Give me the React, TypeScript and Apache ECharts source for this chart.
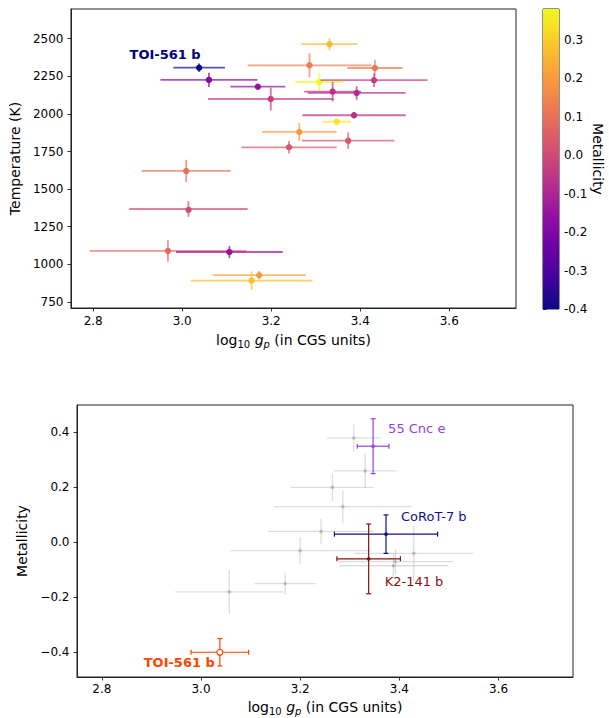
import React, { useEffect, useRef } from 'react';
import * as echarts from 'echarts';

// ---------- Top panel: temperature vs log g, coloured by metallicity ----------
const loggTop = [3.038, 3.060, 3.170, 3.199, 3.286, 3.308, 3.331, 3.433, 3.431, 3.338, 3.392, 3.386, 3.347, 3.263, 3.373, 3.240, 3.009, 3.014, 2.968, 3.106, 3.173, 3.156];
const loggErrTop = [0.058, 0.109, 0.062, 0.141, 0.139, 0.054, 0.063, 0.062, 0.120, 0.064, 0.110, 0.116, 0.032, 0.084, 0.104, 0.107, 0.100, 0.133, 0.176, 0.120, 0.105, 0.137];
const tempTop = [2307, 2226, 2181, 2099, 2323, 2212, 2463, 2305, 2224, 2148, 2139, 1991, 1948, 1880, 1822, 1778, 1621, 1368, 1089, 1082, 928, 892];
const tempErrTop = [28, 47, 18, 76, 80, 60, 40, 55, 45, 65, 45, 20, 20, 60, 55, 42, 74, 52, 72, 41, 28, 61];
const metalTop = [-0.40, -0.18, -0.15, -0.03, 0.13, 0.38, 0.26, 0.12, -0.04, -0.06, -0.085, -0.07, 0.35, 0.20, 0.03, 0.04, 0.10, 0.00, 0.08, -0.15, 0.20, 0.27];
const topLabelName = 'TOI-561 b';
const topLabelIndex = 0;

// ---------- Bottom panel: metallicity vs log g ----------
const bgLogg = [3.308, 3.331, 3.265, 3.286, 3.242, 3.200, 3.429, 3.388, 3.392, 3.170, 3.057];
const bgLoggErr = [0.054, 0.063, 0.084, 0.139, 0.107, 0.141, 0.120, 0.110, 0.116, 0.062, 0.109];
const bgMetal = [0.38, 0.26, 0.20, 0.13, 0.04, -0.03, -0.04, -0.085, -0.07, -0.15, -0.18];
const bgMetalErr = [0.05, 0.064, 0.049, 0.06, 0.047, 0.05, 0.10, 0.045, 0.045, 0.04, 0.079];

const hlNames = ['55 Cnc e', 'CoRoT-7 b', 'K2-141 b', 'TOI-561 b'];
const hlLogg = [3.347, 3.373, 3.338, 3.038];
const hlLoggErr = [0.032, 0.104, 0.064, 0.058];
const hlMetal = [0.35, 0.03, -0.06, -0.40];
const hlMetalErr = [0.10, 0.07, 0.127, 0.05];

// ---------- Tick labels ----------
const loggTicks = [2.8, 3.0, 3.2, 3.4, 3.6];
const tempTicks = [750, 1000, 1250, 1500, 1750, 2000, 2250, 2500];
const metalTicks = [-0.4, -0.2, 0.0, 0.2, 0.4];
const cbarTicks = [-0.4, -0.3, -0.2, -0.1, 0.0, 0.1, 0.2, 0.3];

// ---------- Styles ----------
const CB_MIN = -0.4;
const CB_MAX = 0.38;
const FONT = 'DejaVu Sans';
const hlStyle = [
  { color: '#9440e2', dx: 15, dy: -18, align: 'left', bold: false, open: false },
  { color: '#11118c', dx: 15, dy: -18, align: 'left', bold: false, open: false },
  { color: '#8b1010', dx: 16, dy: 23, align: 'left', bold: false, open: false },
  { color: '#ff4500', dx: -5, dy: 10, align: 'right', bold: true, open: true },
];

const PLASMA = ['#0d0887', '#41049d', '#6a00a8', '#8f0da4', '#b12a90', '#cc4778', '#e16462', '#f2844b', '#fca636', '#fcce25', '#f0f921'];

function hexToRgb(h: string) {
  const n = parseInt(h.slice(1), 16);
  return [(n >> 16) & 255, (n >> 8) & 255, n & 255];
}
function plasma(t: number) {
  const tt = Math.max(0, Math.min(1, t)) * (PLASMA.length - 1);
  const i = Math.min(PLASMA.length - 2, Math.floor(tt));
  const f = tt - i;
  const a = hexToRgb(PLASMA[i]);
  const b = hexToRgb(PLASMA[i + 1]);
  const c = a.map((v, k) => Math.round(v + (b[k] - v) * f));
  return `rgb(${c[0]},${c[1]},${c[2]})`;
}
const metalColor = (m: number) => plasma((m - CB_MIN) / (CB_MAX - CB_MIN));

const xName = '{n|log}{s|10}{n| }{i|g}{si|p}{n| (in CGS units)}';
const xNameStyle = {
  color: '#000',
  fontFamily: FONT,
  fontSize: 14,
  rich: {
    n: { fontFamily: FONT, fontSize: 14, color: '#000', lineHeight: 18 },
    i: { fontFamily: FONT, fontSize: 14, color: '#000', fontStyle: 'italic', lineHeight: 18 },
    s: { fontFamily: FONT, fontSize: 10, color: '#000', verticalAlign: 'bottom', lineHeight: 18 },
    si: { fontFamily: FONT, fontSize: 10, color: '#000', verticalAlign: 'bottom', lineHeight: 18, fontStyle: 'italic' },
  },
};

const tickStyle = { show: true, inside: false, length: 3.5, lineStyle: { color: '#000', width: 0.8 } };
const labelBase = { color: '#000', fontFamily: FONT, fontSize: 12 };
const fmt1 = (v: number) => (Math.abs(v) < 1e-9 ? '0.0' : v.toFixed(1));
const fmtMinus = (v: number) => (Math.abs(v) < 1e-9 ? '0.0' : (v < 0 ? '\u2212' : '') + Math.abs(v).toFixed(1));
const axisLineStyle = { show: true, onZero: false, lineStyle: { color: '#222', width: 1 } };

export default function App() {
  const ref = useRef<HTMLDivElement>(null);
  useEffect(() => {
    const el = ref.current;
    if (!el) return;
    const chart = echarts.init(el, null, { renderer: 'svg' });

    const topData = loggTop.map((x, i) => [x, loggErrTop[i], tempTop[i], tempErrTop[i], metalTop[i]]);
    const bgData = bgLogg.map((x, i) => [x, bgLoggErr[i], bgMetal[i], bgMetalErr[i]]);
    const hlData = hlLogg.map((x, i) => [x, hlLoggErr[i], hlMetal[i], hlMetalErr[i]]);

    const gradStops = [] as { offset: number; color: string }[];
    for (let k = 0; k <= 20; k++) {
      gradStops.push({ offset: k / 20, color: plasma(1 - k / 20) });
    }

    const option: any = {
      animation: false,
      backgroundColor: '#fff',
      grid: [
        { left: 64, top: 9, width: 452, height: 299, show: true, borderColor: '#222', borderWidth: 1, backgroundColor: 'transparent' },
        { left: 543, top: 9, width: 16, height: 300, show: true, borderColor: '#222', borderWidth: 1, backgroundColor: 'transparent' },
        { left: 77, top: 405, width: 496, height: 272, show: true, borderColor: '#222', borderWidth: 1, backgroundColor: 'transparent' },
      ],
      xAxis: [
        {
          gridIndex: 0, type: 'value', min: 2.75, max: 3.75,
          name: xName, nameLocation: 'middle', nameGap: 23, nameTextStyle: xNameStyle,
          axisLine: axisLineStyle,
          axisTick: { ...tickStyle, customValues: loggTicks },
          axisLabel: { ...labelBase, margin: 7, customValues: loggTicks, formatter: fmt1 },
          splitLine: { show: false },
        },
        { gridIndex: 1, type: 'value', min: 0, max: 1, show: false },
        {
          gridIndex: 2, type: 'value', min: 2.75, max: 3.75,
          name: xName, nameLocation: 'middle', nameGap: 21, nameTextStyle: xNameStyle,
          axisLine: axisLineStyle,
          axisTick: { ...tickStyle, customValues: loggTicks },
          axisLabel: { ...labelBase, margin: 6, customValues: loggTicks, formatter: fmt1 },
          splitLine: { show: false },
        },
      ],
      yAxis: [
        {
          gridIndex: 0, type: 'value', min: 710, max: 2697,
          name: 'Temperature (K)', nameLocation: 'middle', nameGap: 44, nameRotate: 90,
          nameTextStyle: { color: '#000', fontFamily: FONT, fontSize: 14 },
          axisLine: axisLineStyle,
          axisTick: { ...tickStyle, customValues: tempTicks },
          axisLabel: { ...labelBase, margin: 7.5, customValues: tempTicks, formatter: (v: number) => String(Math.round(v)) },
          splitLine: { show: false },
        },
        {
          gridIndex: 1, type: 'value', position: 'right', min: CB_MIN, max: CB_MAX,
          name: 'Metallicity', nameLocation: 'middle', nameGap: 31, nameRotate: -90,
          nameTextStyle: { color: '#000', fontFamily: FONT, fontSize: 14 },
          axisLine: { show: false },
          axisTick: { ...tickStyle, customValues: cbarTicks },
          axisLabel: { ...labelBase, margin: 5, customValues: cbarTicks, formatter: fmt1 },
          splitLine: { show: false },
        },
        {
          gridIndex: 2, type: 'value', min: -0.49, max: 0.5,
          name: 'Metallicity', nameLocation: 'middle', nameGap: 42, nameRotate: 90,
          nameTextStyle: { color: '#000', fontFamily: FONT, fontSize: 14 },
          axisLine: axisLineStyle,
          axisTick: { ...tickStyle, customValues: metalTicks },
          axisLabel: { ...labelBase, margin: 7.5, customValues: metalTicks, formatter: fmtMinus },
          splitLine: { show: false },
        },
      ],
      series: [
        {
          type: 'custom', xAxisIndex: 0, yAxisIndex: 0, data: topData, encode: { x: 0, y: 2 },
          renderItem: (params: any, api: any) => {
            const x = api.value(0), xe = api.value(1), y = api.value(2), ye = api.value(3), m = api.value(4);
            const col = metalColor(m);
            const p = api.coord([x, y]);
            const l = api.coord([x - xe, y]);
            const r = api.coord([x + xe, y]);
            const t = api.coord([x, y + ye]);
            const b = api.coord([x, y - ye]);
            const children: any[] = [
              { type: 'line', shape: { x1: l[0], y1: l[1], x2: r[0], y2: r[1] }, style: { stroke: col, lineWidth: 1.8, opacity: 0.7 } },
              { type: 'line', shape: { x1: t[0], y1: t[1], x2: b[0], y2: b[1] }, style: { stroke: col, lineWidth: 1.8, opacity: 0.7 } },
              { type: 'circle', shape: { cx: p[0], cy: p[1], r: 3.2 }, style: { fill: col } },
            ];
            if (params.dataIndex === topLabelIndex) {
              children.push({
                type: 'text', x: p[0] - 34, y: p[1] - 13,
                style: { text: topLabelName, fill: '#000080', fontFamily: FONT, fontSize: 13, fontWeight: 'bold', align: 'center', verticalAlign: 'middle' },
              });
            }
            return { type: 'group', children };
          },
        },
        {
          type: 'custom', xAxisIndex: 1, yAxisIndex: 1, data: [[0, 0]], encode: { x: 0, y: 1 },
          renderItem: (params: any, api: any) => {
            const tl = api.coord([0, CB_MAX]);
            const br = api.coord([1, CB_MIN]);
            return {
              type: 'rect',
              shape: { x: tl[0], y: tl[1], width: br[0] - tl[0], height: br[1] - tl[1] },
              style: { fill: new echarts.graphic.LinearGradient(0, 0, 0, 1, gradStops) },
            };
          },
        },
        {
          type: 'custom', xAxisIndex: 2, yAxisIndex: 2, data: bgData, encode: { x: 0, y: 2 },
          renderItem: (params: any, api: any) => {
            const x = api.value(0), xe = api.value(1), y = api.value(2), ye = api.value(3);
            const p = api.coord([x, y]);
            const l = api.coord([x - xe, y]);
            const r = api.coord([x + xe, y]);
            const t = api.coord([x, y + ye]);
            const b = api.coord([x, y - ye]);
            const ls = { stroke: 'rgba(150,150,150,0.32)', lineWidth: 1.3 };
            return {
              type: 'group', children: [
                { type: 'line', shape: { x1: l[0], y1: l[1], x2: r[0], y2: r[1] }, style: ls },
                { type: 'line', shape: { x1: t[0], y1: t[1], x2: b[0], y2: b[1] }, style: ls },
                { type: 'circle', shape: { cx: p[0], cy: p[1], r: 1.8 }, style: { fill: 'rgba(140,140,140,0.45)' } },
              ],
            };
          },
        },
        {
          type: 'custom', xAxisIndex: 2, yAxisIndex: 2, data: hlData, encode: { x: 0, y: 2 },
          renderItem: (params: any, api: any) => {
            const i = params.dataIndex;
            const st = hlStyle[i];
            const x = api.value(0), xe = api.value(1), y = api.value(2), ye = api.value(3);
            const p = api.coord([x, y]);
            const l = api.coord([x - xe, y]);
            const r = api.coord([x + xe, y]);
            const t = api.coord([x, y + ye]);
            const b = api.coord([x, y - ye]);
            const cap = 2.5;
            const ls = { stroke: st.color, lineWidth: 1.2 };
            const children: any[] = [
              { type: 'line', shape: { x1: l[0], y1: l[1], x2: r[0], y2: r[1] }, style: ls },
              { type: 'line', shape: { x1: t[0], y1: t[1], x2: b[0], y2: b[1] }, style: ls },
              { type: 'line', shape: { x1: l[0], y1: l[1] - cap, x2: l[0], y2: l[1] + cap }, style: ls },
              { type: 'line', shape: { x1: r[0], y1: r[1] - cap, x2: r[0], y2: r[1] + cap }, style: ls },
              { type: 'line', shape: { x1: t[0] - cap, y1: t[1], x2: t[0] + cap, y2: t[1] }, style: ls },
              { type: 'line', shape: { x1: b[0] - cap, y1: b[1], x2: b[0] + cap, y2: b[1] }, style: ls },
              st.open
                ? { type: 'circle', shape: { cx: p[0], cy: p[1], r: 3 }, style: { fill: '#fff', stroke: st.color, lineWidth: 1.2 } }
                : { type: 'circle', shape: { cx: p[0], cy: p[1], r: 1.8 }, style: { fill: st.color } },
              {
                type: 'text', x: p[0] + st.dx, y: p[1] + st.dy,
                style: {
                  text: hlNames[i], fill: st.color, fontFamily: FONT, fontSize: 13,
                  fontWeight: st.bold ? 'bold' : 'normal', align: st.align, verticalAlign: 'middle',
                },
              },
            ];
            return { type: 'group', children };
          },
        },
      ],
    };
    chart.setOption(option);
    return () => chart.dispose();
  }, []);
  return <div ref={ref} style={{ position: 'absolute', left: 0, top: 0, width: 609, height: 718 }} />;
}
